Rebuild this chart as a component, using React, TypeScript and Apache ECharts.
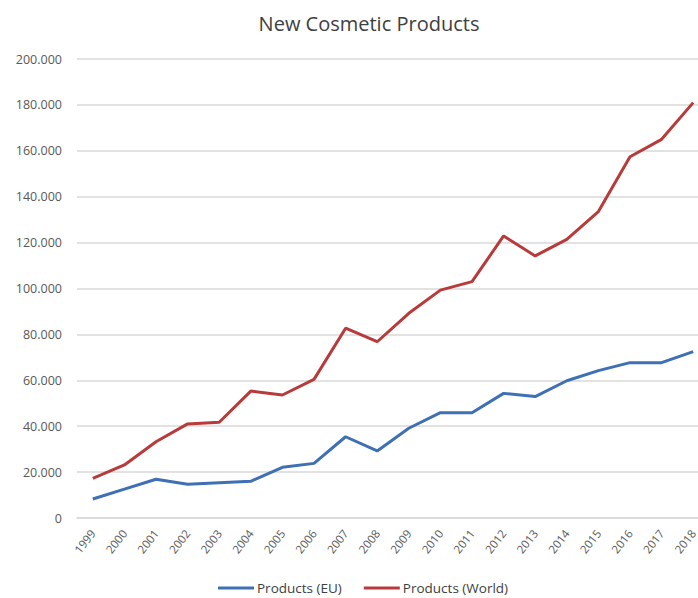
import React, { useEffect, useRef } from "react";
import * as echarts from "echarts";

const years = ["1999","2000","2001","2002","2003","2004","2005","2006","2007","2008","2009","2010","2011","2012","2013","2014","2015","2016","2017","2018"];
const productsEU = [8300,12600,16900,14700,15400,16000,22100,23800,35400,29200,39100,45900,45900,54300,52900,59800,64200,67700,67700,72500];
const productsWorld = [17300,23100,33200,41000,41700,55300,53600,60400,82700,76800,89200,99300,103000,122900,114200,121400,133500,157400,165000,181000];

export default function App() {
  const ref = useRef<HTMLDivElement>(null);
  useEffect(() => {
    document.body.style.margin = "0";
    const chart = echarts.init(ref.current!, null, { renderer: "svg" });
    const font = "'Open Sans', sans-serif";
    chart.setOption({
      animation: false,
      backgroundColor: "#ffffff",
      title: {
        text: "New Cosmetic Products",
        left: 364,
        textAlign: "center",
        top: 8,
        textStyle: { fontFamily: font, fontSize: 20, fontWeight: "normal", color: "#404040" },
      },
      legend: {
        top: 581,
        left: 218,
        padding: 0,
        icon: "rect",
        itemWidth: 36,
        itemHeight: 3,
        itemGap: 22,
        textStyle: { fontFamily: font, fontSize: 13.5, lineHeight: 14, color: "#404040", padding: [0, 0, 0, -2] },
        data: ["Products (EU)", "Products (World)"],
      },
      grid: { left: 77, top: 59, bottom: 80, width: 632, outerBoundsMode: "none", containLabel: false },
      xAxis: {
        type: "category",
        data: years,
        boundaryGap: true,
        axisLine: { show: true, lineStyle: { color: "#d9d9d9", width: 1.5 } },
        axisTick: { show: false },
        axisLabel: { rotate: 52, interval: 0, margin: 13, fontFamily: font, fontSize: 11.5, color: "#595959" },
      },
      yAxis: {
        type: "value",
        min: 0,
        max: 200000,
        interval: 20000,
        axisLine: { show: false },
        axisTick: { show: false },
        splitLine: { lineStyle: { color: "#d9d9d9", width: 1.5 } },
        axisLabel: {
          margin: 15,
          fontFamily: font,
          fontSize: 12.5,
          color: "#595959",
          formatter: (v: number) => (v === 0 ? "0" : v / 1000 + ".000"),
        },
      },
      series: [
        {
          name: "Products (EU)",
          type: "line",
          data: productsEU,
          showSymbol: false,
          symbol: "none",
          lineStyle: { color: "#3f6fb4", width: 3 },
          itemStyle: { color: "#3f6fb4" },
        },
        {
          name: "Products (World)",
          type: "line",
          data: productsWorld,
          showSymbol: false,
          symbol: "none",
          lineStyle: { color: "#b83a3a", width: 3 },
          itemStyle: { color: "#b83a3a" },
        },
      ],
    });
    return () => chart.dispose();
  }, []);
  return <div ref={ref} style={{ width: 698, height: 598 }} />;
}
